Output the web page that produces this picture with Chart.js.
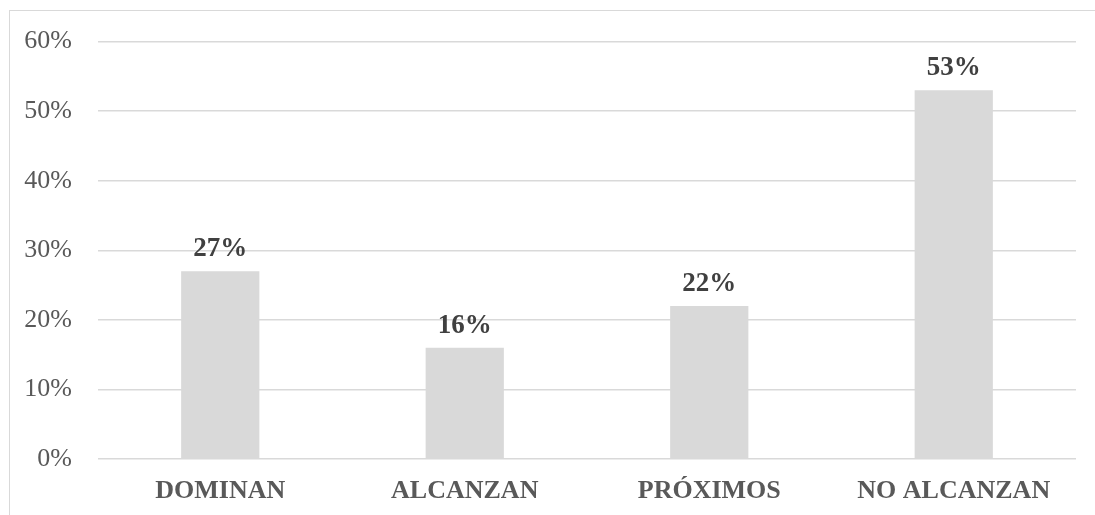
<!DOCTYPE html>
<html>
<head>
<meta charset="utf-8">
<script src="https://cdn.jsdelivr.net/npm/chart.js@4"></script>
<style>
  html, body { margin: 0; padding: 0; background: #fff; }
  #wrap { position: relative; width: 1095px; height: 515px; overflow: hidden; }
  #frame { position: absolute; left: 9px; top: 10px; width: 1200px; height: 600px;
           border-top: 1px solid #d9d9d9; border-left: 1px solid #d9d9d9; }
  canvas { position: absolute; left: 0; top: 0; }
</style>
</head>
<body>
<div id="wrap">
  <div id="frame"></div>
  <canvas id="chart" width="1095" height="515"></canvas>
</div>
<script>
const categories = ['DOMINAN', 'ALCANZAN', 'PRÓXIMOS', 'NO ALCANZAN'];
const values = [27, 16, 22, 53];
const yTicks = [0, 10, 20, 30, 40, 50, 60];

const serif = '"Liberation Serif", "Times New Roman", Times, serif';

// value labels above each bar
const barLabels = {
  id: 'barLabels',
  afterDatasetsDraw(chart) {
    const ctx = chart.ctx;
    const meta = chart.getDatasetMeta(0);
    ctx.save();
    ctx.font = 'bold 27px ' + serif;
    ctx.fillStyle = '#404040';
    ctx.textAlign = 'center';
    ctx.textBaseline = 'alphabetic';
    meta.data.forEach((bar, i) => {
      ctx.fillText(values[i] + '%', bar.x, bar.y - 15);
    });
    ctx.restore();
  }
};

new Chart(document.getElementById('chart'), {
  type: 'bar',
  data: {
    labels: categories,
    datasets: [{
      data: values,
      backgroundColor: '#d9d9d9',
      borderWidth: 0,
      categoryPercentage: 1,
      barPercentage: 0.32
    }]
  },
  options: {
    responsive: false,
    animation: false,
    layout: { padding: { top: 40, right: 19, bottom: 0, left: 0 } },
    plugins: { legend: { display: false }, tooltip: { enabled: false } },
    scales: {
      x: {
        grid: { display: false },
        border: { display: false },
        ticks: {
          color: '#595959',
          padding: 9,
          font: { family: serif, size: 26, weight: 'bold' }
        },
        afterFit(scale) { scale.height = 56; }
      },
      y: {
        min: 0,
        max: 60,
        afterBuildTicks(scale) { scale.ticks = yTicks.map(v => ({ value: v })); },
        grid: { color: '#d9d9d9', lineWidth: 1.5, drawTicks: false },
        border: { display: false },
        ticks: {
          color: '#595959',
          padding: 26,
          font: { family: serif, size: 26 },
          callback: v => v + '%'
        },
        afterFit(scale) { scale.width = 98; }
      }
    }
  },
  plugins: [barLabels]
});
</script>
</body>
</html>
